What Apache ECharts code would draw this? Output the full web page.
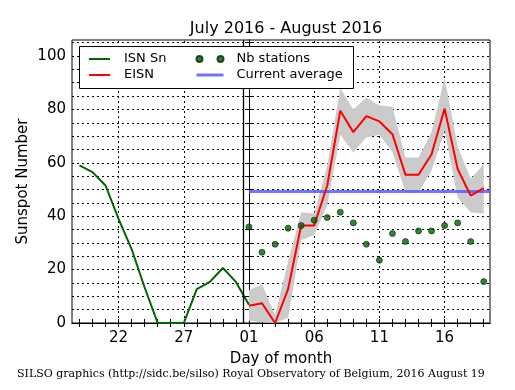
<!DOCTYPE html>
<html><head><meta charset="utf-8">
<script src="https://cdn.jsdelivr.net/npm/echarts@6/dist/echarts.min.js"></script>
<style>html,body{margin:0;padding:0;background:#fff}#c{width:515px;height:390px}</style>
</head><body><div id="c"></div>
<script>
// Day offsets relative to 2016-08-01 (0 = Aug 1, -1 = Jul 31)
const isnDays = [-13,-12,-11,-10,-9,-8,-7,-6,-5,-4,-3,-2,-1,0];
const isnValues = [59,56.5,51.5,39,27.7,13.3,0,0,0,12.7,15.4,20.6,15.4,6.8];
const eisnDays = [0,1,2,3,4,5,6,7,8,9,10,11,12,13,14,15,16,17,18];
const eisnValues = [6.5,7.4,0,12.7,36.5,36.5,51.5,79.5,71.5,77.5,75.5,70.7,55.5,55.5,63.2,80.3,57.7,47.7,50.5];
const bandUpper = [12.3,14.5,3,23,41.5,41,59,88,80,84.5,81.5,81,62,62,71.5,92,66,54,59.5];
const bandLower = [0.8,0.3,0,2,31,33,44,70.5,64,69.5,70.5,64,49,49,57,72,47,41.5,41];
const nbStations = [36,26.5,29.5,35.5,36.5,38.5,39.5,41.5,37.5,29.5,23.5,33.5,30.5,34.5,34.5,36.5,37.5,30.5,15.5];
const currentAverage = 49.3;
const todayMarker = -0.45;
const tickValues = [-10,-5,0,5,10,15];
const tickLabels = ['22','27','01','06','11','16'];
const xMin = -13.57, xMax = 18.48;
const yMin = 0, yMax = 106;

const dayTicks = []; for (let d = -13; d <= 18; d++) dayTicks.push(d);
const yMinorTicks = []; for (let v = 0; v <= 105; v += 5) yMinorTicks.push(v);
const yLabelValues = [0,20,40,60,80,100];

const F = 'DejaVu Sans';
const chart = echarts.init(document.getElementById('c'), null, {renderer:'canvas'});
const zip = (a,b) => a.map((x,i)=>[x,b[i]]);
const dotted = {color:'#000', width:1, type:[2,3]};
const avgColor = 'rgba(90,90,255,0.85)';

function renderBand(params, api) {
  if (params.dataIndex !== 0) return null;
  const pts = [];
  for (let i = 0; i < eisnDays.length; i++) pts.push(api.coord([eisnDays[i], bandUpper[i]]));
  for (let i = eisnDays.length - 1; i >= 0; i--) pts.push(api.coord([eisnDays[i], bandLower[i]]));
  return {type:'polygon', shape:{points:pts}, style:{fill:'#cbcbcb', stroke:null}};
}

chart.setOption({
  animation:false,
  textStyle:{fontFamily:F},
  title:{text:'July 2016 - August 2016', left:281, textAlign:'center', top:16,
    textStyle:{fontFamily:F, fontSize:16, fontWeight:'normal', color:'#000'}},
  grid:{left:72, top:40, right:25, bottom:67, show:true, borderColor:'#000', borderWidth:1},
  xAxis:[{
    type:'value', min:xMin, max:xMax, position:'bottom',
    axisLine:{show:true, lineStyle:{color:'#000', width:1}},
    axisTick:{show:true, inside:true, length:4, customValues:dayTicks, lineStyle:{color:'#000'}},
    axisLabel:{customValues:tickValues, formatter:v=>tickLabels[tickValues.indexOf(v)], fontFamily:F, fontSize:15, color:'#000', margin:8},
    splitLine:{show:false},
    name:'Day of month', nameLocation:'middle', nameGap:29, nameMoveOverlap:false,
    nameTextStyle:{fontFamily:F, fontSize:15, color:'#000'}
  },{
    type:'value', min:xMin, max:xMax, position:'top',
    axisLine:{show:true, lineStyle:{color:'#000', width:1}},
    axisTick:{show:true, inside:true, length:4, customValues:dayTicks, lineStyle:{color:'#000'}},
    axisLabel:{show:false}, splitLine:{show:false}
  }],
  yAxis:[{
    type:'value', min:yMin, max:yMax, interval:20, position:'left',
    axisLine:{show:true, lineStyle:{color:'#000', width:1}},
    axisTick:{show:true, inside:true, length:4, customValues:yMinorTicks, lineStyle:{color:'#000'}},
    axisLabel:{customValues:yLabelValues, fontFamily:F, fontSize:15, color:'#000', margin:6},
    splitLine:{show:true, lineStyle:dotted},
    name:'Sunspot Number', nameLocation:'middle', nameGap:41, nameRotate:90, nameMoveOverlap:false,
    nameTextStyle:{fontFamily:F, fontSize:15, color:'#000'}
  },{
    type:'value', min:yMin, max:yMax, interval:20, position:'right',
    axisLine:{show:true, lineStyle:{color:'#000', width:1}},
    axisTick:{show:true, inside:true, length:4, customValues:yMinorTicks, lineStyle:{color:'#000'}},
    axisLabel:{show:false}, splitLine:{show:false}
  }],
  graphic:[
    {type:'rect', z:10, shape:{x:79.5, y:46.5, width:274, height:42}, style:{fill:'#fff', stroke:'#000', lineWidth:1}},
    {type:'text', z:10, left:17, top:369, style:{text:'SILSO graphics (http://sidc.be/silso) Royal Observatory of Belgium, 2016 August 19', font:'11px "DejaVu Serif"', fill:'#000'}}
  ],
  legend:[{
    z:11, left:83, top:46.5, orient:'vertical', itemWidth:21, itemHeight:10, itemGap:1,
    itemStyle:{opacity:0},
    textStyle:{fontFamily:F, fontSize:13, color:'#000', padding:[0,0,0,9], lineHeight:15},
    data:['ISN Sn','EISN'], selectedMode:false
  },{
    z:11, left:190, top:46.5, orient:'vertical', itemWidth:27, itemHeight:10, itemGap:1,
    textStyle:{fontFamily:F, fontSize:13, color:'#000', padding:[0,0,0,8], lineHeight:15},
    data:[{name:'Nb stations', icon:'path://M0,3A3,3 0 1 1 6,3A3,3 0 1 1 0,3ZM21,3A3,3 0 1 1 27,3A3,3 0 1 1 21,3Z'},
          {name:'Current average', itemStyle:{opacity:0}, lineStyle:{width:3, color:avgColor}}], selectedMode:false
  }],
  series:[
    {name:'band', type:'custom', renderItem:renderBand, data:eisnDays.map((d,i)=>[d,bandLower[i],bandUpper[i]]),
      encode:{x:0, y:[1,2]}, silent:true, z:1, clip:true,
      markLine:{silent:true, symbol:'none', label:{show:false}, lineStyle:dotted, z:0,
        data:tickValues.map(v=>({xAxis:v}))}},
    {name:'Current average', type:'line', data:[[0,currentAverage],[xMax,currentAverage]], symbol:'none',
      lineStyle:{color:avgColor, width:3}, itemStyle:{color:avgColor}, z:2},
    {name:'EISN', type:'line', data:zip(eisnDays,eisnValues), symbol:'none',
      lineStyle:{color:'#ff0000', width:2}, itemStyle:{color:'#ff0000'}, z:3},
    {name:'ISN Sn', type:'line', data:zip(isnDays,isnValues), symbol:'none',
      lineStyle:{color:'#006400', width:2}, itemStyle:{color:'#006400'}, z:3,
      markLine:{silent:true, symbol:'none', label:{show:false}, lineStyle:{color:'#000', width:1.3, type:'solid'},
        data:[{xAxis:todayMarker}]}},
    {name:'Nb stations', type:'scatter', data:zip(eisnDays,nbStations), symbolSize:6,
      itemStyle:{color:'#006400', borderColor:'#002a00', borderWidth:0.8}, z:4}
  ]
});
</script></body></html>
